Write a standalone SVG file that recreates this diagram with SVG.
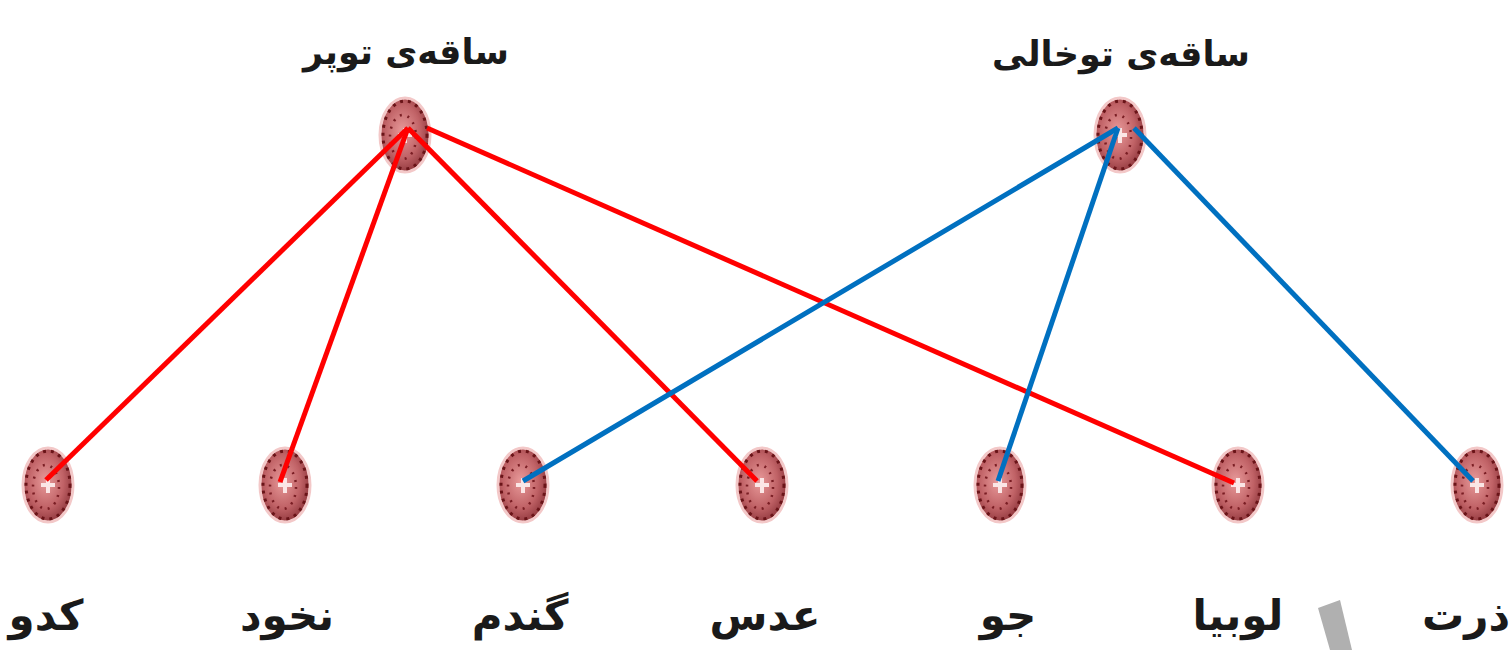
<svg xmlns="http://www.w3.org/2000/svg" width="1512" height="650" viewBox="0 0 1512 650">
<defs>
<radialGradient id="g" cx="45%" cy="45%" r="60%">
<stop offset="0" stop-color="#e89a9a"/>
<stop offset="0.6" stop-color="#c06266"/>
<stop offset="1" stop-color="#8a3238"/>
</radialGradient>
<g id="nd">
<ellipse cx="0" cy="0" rx="25" ry="37" fill="url(#g)" stroke="#f3c8c8" stroke-width="3"/>
<ellipse cx="0" cy="0" rx="22" ry="34" fill="none" stroke="#6a1418" stroke-width="3" stroke-dasharray="3 5"/>
<ellipse cx="-2" cy="2" rx="13" ry="22" fill="none" stroke="#7a1e24" stroke-width="2.5" stroke-dasharray="2 6"/>
<path d="M-2,-7 h4 v5 h5 v4 h-5 v6 h-4 v-6 h-5 v-4 h5 z" fill="#fbe6e6"/>
</g>
</defs>
<style>
.lbl{font-family:"DejaVu Sans","Noto Sans",sans-serif;font-size:42px;fill:#1a1a1a;text-anchor:middle;font-weight:bold}
.top{font-size:35px}
.r{stroke:#ff0000;stroke-width:5;fill:none;stroke-linecap:butt}
.b{stroke:#0070c0;stroke-width:5;fill:none}
</style>
<rect width="1512" height="650" fill="#ffffff"/>
<g id="n-top-solid"><use href="#nd" x="405" y="135"/><text class="lbl top" x="406" y="64" direction="rtl">ساقەی توپر</text></g>
<g id="n-top-hollow"><use href="#nd" x="1120" y="135"/><text class="lbl top" x="1121" y="66" direction="rtl">ساقەی توخالی</text></g>
<g id="n-kado"><use href="#nd" x="48" y="485"/><text class="lbl" x="46" y="630" direction="rtl">کدو</text></g>
<g id="n-nokhod"><use href="#nd" x="285" y="485"/><text class="lbl" x="287" y="630" direction="rtl">نخود</text></g>
<g id="n-gandom"><use href="#nd" x="523" y="485"/><text class="lbl" x="520" y="630" direction="rtl">گندم</text></g>
<g id="n-adas"><use href="#nd" x="762" y="485"/><text class="lbl" x="765" y="630" direction="rtl">عدس</text></g>
<g id="n-jo"><use href="#nd" x="1000" y="485"/><text class="lbl" x="1008" y="630" direction="rtl">جو</text></g>
<g id="n-lobia"><use href="#nd" x="1238" y="485"/><text class="lbl" x="1238" y="630" direction="rtl">لوبیا</text></g>
<g id="n-zorat"><use href="#nd" x="1477" y="485"/><text class="lbl" x="1466" y="630" direction="rtl">ذرت</text></g>
<g id="connectors">
<line class="r" x1="408" y1="128" x2="46" y2="480"/>
<line class="r" x1="408" y1="128" x2="280" y2="482"/>
<line class="r" x1="408" y1="128" x2="757" y2="481"/>
<line class="r" x1="427" y1="128" x2="1234" y2="483"/>
<line class="b" x1="1118" y1="128" x2="523" y2="481"/>
<line class="b" x1="1118" y1="128" x2="998" y2="481"/>
<line class="b" x1="1134" y1="128" x2="1473" y2="481"/>
</g>
<polygon points="1318,608 1340,600 1352,650 1330,650" fill="#b0b0b0"/>
</svg>
